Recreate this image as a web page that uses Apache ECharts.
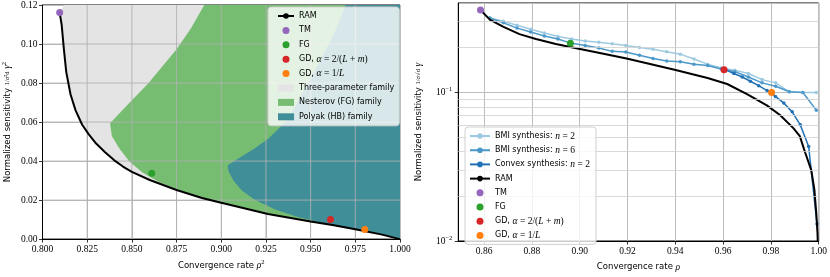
<!DOCTYPE html>
<html><head><meta charset="utf-8">
<script src="https://cdn.jsdelivr.net/npm/echarts@6/dist/echarts.min.js"></script>
<style>html,body{margin:0;padding:0;background:#fff}#c{width:830px;height:277px}</style>
</head><body><div id="c"></div>
<script>
// ---------- LEFT panel data (x = rho^2, y = normalized sensitivity) ----------
const ramLX = [0.8096,0.8107,0.8120,0.8133,0.8157,0.8185,0.8222,0.8259,0.8300,0.8350,0.8400,0.8450,0.8500,0.8600,0.8750,0.8892,0.9000,0.9261,0.9500,0.9630,0.9750,0.9900,1.0000];
const ramLY = [0.1161,0.1100,0.0970,0.0856,0.0741,0.0660,0.0586,0.0537,0.0490,0.0445,0.0405,0.0372,0.0345,0.0303,0.0252,0.0211,0.0186,0.0129,0.0090,0.0071,0.0051,0.0023,0.0000];
const grayX = [0.8096,0.8107,0.8120,0.8133,0.8157,0.8185,0.8222,0.8259,0.8300,0.8350,0.8400,0.8450,0.8500,0.8600,0.8750,0.8892,0.9000,0.9261,0.9500,0.9630,0.9750,0.9900,1.0000,1.0000,0.8120];
const grayY = [0.1161,0.1100,0.0970,0.0856,0.0741,0.0660,0.0586,0.0537,0.0490,0.0445,0.0405,0.0372,0.0345,0.0303,0.0252,0.0211,0.0186,0.0129,0.0090,0.0071,0.0051,0.0023,0.0000,0.1200,0.1200];
const greenX = [0.8905,0.8830,0.8748,0.8591,0.8480,0.8378,0.8388,0.8430,0.8485,0.8559,0.8651,0.8744,0.8892,0.9000,0.9261,0.9500,0.9630,0.9750,0.9900,1.0000,1.0000];
const greenY = [0.1200,0.1080,0.0970,0.0798,0.0692,0.0594,0.0529,0.0464,0.0399,0.0342,0.0293,0.0258,0.0211,0.0186,0.0129,0.0090,0.0071,0.0051,0.0023,0.0000,0.1200];
const blueX = [0.9695,0.9630,0.9538,0.9450,0.9372,0.9261,0.9186,0.9085,0.9036,0.9040,0.9068,0.9114,0.9187,0.9298,0.9428,0.9539,0.9630,0.9750,0.9900,1.0000,1.0000];
const blueY = [0.1200,0.1050,0.0888,0.0740,0.0611,0.0513,0.0464,0.0407,0.0378,0.0349,0.0300,0.0251,0.0202,0.0153,0.0113,0.0089,0.0071,0.0051,0.0023,0.0000,0.1200];
const tmL = [0.8096, 0.1161];
const fgL = [0.8611, 0.0337];
const gdAL = [0.9611, 0.0100];
const gdBL = [0.9803, 0.0049];
const gridLX = [0.825,0.85,0.875,0.9,0.925,0.95,0.975];
const gridLY = [0.02,0.04,0.06,0.08,0.10];

// ---------- RIGHT panel data (x = rho, y = normalized sensitivity, log) ----------
const bmiX = [0.8624,0.8681,0.8738,0.8795,0.8852,0.8909,0.8966,0.9023,0.9080,0.9136,0.9193,0.9250,0.9307,0.9364,0.9421,0.9478,0.9535,0.9592,0.9649,0.9706,0.9763,0.9820,0.9877,0.9934,0.9990];
const bmi2Y = [0.317,0.301,0.283,0.266,0.251,0.238,0.229,0.222,0.218,0.213,0.207,0.201,0.195,0.188,0.181,0.168,0.155,0.146,0.141,0.134,0.122,0.116,0.101,0.100,0.100];
const bmi6Y = [0.317,0.294,0.271,0.255,0.240,0.229,0.214,0.207,0.199,0.189,0.187,0.178,0.169,0.163,0.161,0.155,0.152,0.144,0.138,0.127,0.116,0.110,0.101,0.100,0.076];
const convX = [0.9610,0.9645,0.9680,0.9714,0.9749,0.9784,0.9819,0.9854,0.9889,0.9923,0.9958,0.9993];
const convY = [0.142,0.134,0.127,0.119,0.111,0.103,0.094,0.0848,0.074,0.0605,0.0433,0.013];
const ramRX = [0.8585,0.8624,0.8679,0.8748,0.8817,0.8900,0.8996,0.9079,0.9196,0.9397,0.9535,0.9617,0.9700,0.9783,0.9838,0.9894,0.9921,0.9943,0.9969,0.9982,0.9990,0.9995,0.9998];
const ramRY = [0.359,0.309,0.277,0.247,0.229,0.212,0.197,0.185,0.169,0.142,0.125,0.114,0.0975,0.0818,0.0705,0.0575,0.0508,0.0396,0.030,0.0222,0.0153,0.0113,0.008];
const tmR = [0.8585, 0.359];
const fgR = [0.8961, 0.214];
const gdAR = [0.9604, 0.142];
const gdBR = [0.9803, 0.100];
const minorGridR = [0.02,0.03,0.04,0.05,0.06,0.07,0.08,0.09,0.2,0.3];

const C = {tm:'#9467bd', fg:'#2ca02c', gdA:'#d62728', gdB:'#ff7f0e',
  gray:'#e4e4e4', green:'#76bd72', blue:'#3f8e98',
  b2:'#9ecae1', b6:'#4a98c9', cv:'#2171b5'};

const zip = (xs, ys) => xs.map((x, i) => [x, ys[i]]);
const SANS = 'DejaVu Sans', SERIF = 'Liberation Serif';
const rich = {
  m:{fontFamily:SERIF, fontStyle:'italic', fontSize:9.5, color:'#000', lineHeight:10},
  r:{fontFamily:SERIF, fontSize:9.5, color:'#000', lineHeight:10},
  s:{fontFamily:SERIF, fontSize:6.5, color:'#000', lineHeight:10},
  sup:{fontFamily:SERIF, fontSize:6.5, color:'#000', padding:[0,0,6,0], lineHeight:10}
};
const NAMES = {
  gdA:'GD, α = 2/(L + m)', gdB:'GD, α = 1/L',
  three:'Three-parameter family', nest:'Nesterov (FG) family', poly:'Polyak (HB) family',
  b2:'BMI synthesis: n = 2', b6:'BMI synthesis: n = 6', cv:'Convex synthesis: n = 2'
};
const legendFmt = {
  [NAMES.gdA]:'GD, {m|α} {r|= 2/(}{m|L}{r| + }{m|m}{r|)}',
  [NAMES.gdB]:'GD, {m|α} {r|= 1/}{m|L}',
  [NAMES.b2]:'BMI synthesis: {m|n} {r|= 2}',
  [NAMES.b6]:'BMI synthesis: {m|n} {r|= 6}',
  [NAMES.cv]:'Convex synthesis: {m|n} {r|= 2}'
};

function swatch(name, color) {
  return {type:'custom', name:name, xAxisIndex:0, yAxisIndex:0, silent:true,
    itemStyle:{color:color}, renderItem:() => null, data:[]};
}
const regions = [[grayX, grayY, C.gray], [greenX, greenY, C.green], [blueX, blueY, C.blue]];
function fillsRender(params, api) {
  if (params.dataIndex !== 0) return null;
  const children = regions.map((r, k) => ({type:'polygon', z2:k,
    shape:{points:r[0].map((x, i) => api.coord([x, r[1][i]]))}, style:{fill:r[2]}}));
  return {type:'group', children:children};
}
function pt(name, p, color, ax) {
  return {type:'scatter', name:name, xAxisIndex:ax, yAxisIndex:ax, symbolSize:7, z:6,
    itemStyle:{color:color, opacity:1}, data:[p]};
}
// left-panel grid lines as plain line series, so they sit above the filled families
const gridStyle = {color:'rgba(176,176,176,0.85)', width:1};
const gridSeries = gridLX.map(x => ({type:'line', name:'gx' + x, xAxisIndex:0, yAxisIndex:0,
    symbol:'none', silent:true, z:3, lineStyle:gridStyle, data:[[x, 0], [x, 0.12]]}))
  .concat(gridLY.map(y => ({type:'line', name:'gy' + y, xAxisIndex:0, yAxisIndex:0,
    symbol:'none', silent:true, z:3, lineStyle:gridStyle, data:[[0.8, y], [1.0, y]]})));

const axisCommon = {
  axisLine:{show:true, onZero:false, lineStyle:{color:'#000', width:1}},
  axisTick:{show:true, length:3.5, lineStyle:{color:'#000', width:0.8}},
  splitLine:{show:true, lineStyle:{color:'#bdbdbd', width:1}},
  nameTextStyle:{fontFamily:SANS, fontSize:8.5, color:'#000', rich:rich}
};
const lblStyle = {fontFamily:SERIF, fontSize:9.5, color:'#000'};
const legendText = {fontFamily:SANS, fontSize:8, color:'#000', lineHeight:10, rich:rich};

const option = {
  animation:false,
  backgroundColor:'#fff',
  grid:[
    {left:39, top:3, width:361, height:245, show:true, borderColor:'#000', borderWidth:1, backgroundColor:'transparent'},
    {left:458.3, top:3, width:362.4, height:245, show:true, borderColor:'#000', borderWidth:1, backgroundColor:'transparent'}
  ],
  xAxis:[
    Object.assign({}, axisCommon, {type:'value', gridIndex:0, min:0.8, max:1.0, interval:0.025,
      name:'Convergence rate {m|ρ}{sup|2}', nameLocation:'middle', nameGap:21,
      axisLabel:Object.assign({}, lblStyle, {margin:5, formatter:v => v.toFixed(3)})}),
    Object.assign({}, axisCommon, {type:'value', gridIndex:1, min:0.8492, max:1.0, splitNumber:7,
      name:'Convergence rate {m|ρ}', nameLocation:'middle', nameGap:21,
      axisLabel:Object.assign({}, lblStyle, {margin:5, showMinLabel:false,
        formatter:v => (v < 0.855 ? '' : v.toFixed(2))})})
  ],
  yAxis:[
    Object.assign({}, axisCommon, {type:'value', gridIndex:0, min:0, max:0.12, interval:0.02,
      name:'Normalized sensitivity {s|1/σ²d} {m|γ}{sup|2}', nameLocation:'middle', nameGap:30,
      axisLabel:Object.assign({}, lblStyle, {margin:5, formatter:v => v.toFixed(2)})}),
    Object.assign({}, axisCommon, {type:'log', logBase:10, gridIndex:1, min:0.01, max:0.4,
      name:'Normalized sensitivity {s|1/σ√d} {m|γ}', nameLocation:'middle', nameGap:35,
      axisLabel:Object.assign({}, lblStyle, {margin:6, showMaxLabel:false, rich:rich,
        formatter:function (v) {
          const e = Math.round(Math.log10(v));
          if (Math.abs(v - Math.pow(10, e)) / v > 1e-6) return '';
          return '{r|10}{sup|' + (e < 0 ? '−' : '') + Math.abs(e) + '}';
        }})})
  ],
  legend:[
    {orient:'vertical', left:268, top:7, itemWidth:16, itemHeight:7, itemGap:4.4, z:8,
     backgroundColor:'rgba(255,255,255,0.8)', borderColor:'#d0d0d0', borderWidth:1, borderRadius:3,
     padding:[4,5,4,9],
     textStyle:legendText,
     formatter:n => legendFmt[n] || n,
     data:[{name:'RAM'}, {name:'TM', icon:'circle'}, {name:'FG', icon:'circle'},
       {name:NAMES.gdA, icon:'circle'}, {name:NAMES.gdB, icon:'circle'},
       {name:NAMES.three, icon:'rect'}, {name:NAMES.nest, icon:'rect'}, {name:NAMES.poly, icon:'rect'}]},
    {orient:'vertical', left:465, top:127, itemWidth:20, itemHeight:7, itemGap:4.2, z:8,
     backgroundColor:'rgba(255,255,255,0.8)', borderColor:'#d0d0d0', borderWidth:1, borderRadius:3,
     padding:[4,6,4,4],
     textStyle:legendText,
     formatter:n => legendFmt[n] || n,
     data:[{name:NAMES.b2}, {name:NAMES.b6}, {name:NAMES.cv}, {name:'RAM'},
       {name:'TM', icon:'circle'}, {name:'FG', icon:'circle'},
       {name:NAMES.gdA, icon:'circle'}, {name:NAMES.gdB, icon:'circle'}]}
  ],
  series:[
    {type:'custom', name:'families', xAxisIndex:0, yAxisIndex:0, z:1, silent:true,
     renderItem:fillsRender, encode:{x:0, y:1}, data:zip(grayX, grayY)},
    swatch(NAMES.three, C.gray), swatch(NAMES.nest, C.green), swatch(NAMES.poly, C.blue)
  ].concat(gridSeries).concat([
    {type:'line', name:'RAM', xAxisIndex:0, yAxisIndex:0, symbol:'none', z:4,
     lineStyle:{color:'#000', width:2}, itemStyle:{color:'#000'}, data:zip(ramLX, ramLY)},
    pt('TM', tmL, C.tm, 0), pt('FG', fgL, C.fg, 0), pt(NAMES.gdA, gdAL, C.gdA, 0), pt(NAMES.gdB, gdBL, C.gdB, 0),
    {type:'line', name:'minor-grid', xAxisIndex:1, yAxisIndex:1, z:1, data:[], silent:true,
     markLine:{silent:true, symbol:'none', label:{show:false}, animation:false,
       lineStyle:{color:'#cfcfcf', width:0.8, type:'solid'},
       data:minorGridR.map(v => ({yAxis:v}))}},
    {type:'line', name:NAMES.b2, xAxisIndex:1, yAxisIndex:1, symbol:'circle', symbolSize:3.5, z:3,
     lineStyle:{color:C.b2, width:1.5}, itemStyle:{color:C.b2}, data:zip(bmiX, bmi2Y)},
    {type:'line', name:NAMES.b6, xAxisIndex:1, yAxisIndex:1, symbol:'circle', symbolSize:3.5, z:3,
     lineStyle:{color:C.b6, width:1.5}, itemStyle:{color:C.b6}, data:zip(bmiX, bmi6Y)},
    {type:'line', name:NAMES.cv, xAxisIndex:1, yAxisIndex:1, symbol:'circle', symbolSize:3.5, z:3,
     lineStyle:{color:C.cv, width:1.5}, itemStyle:{color:C.cv}, data:zip(convX, convY)},
    {type:'line', name:'RAM', xAxisIndex:1, yAxisIndex:1, symbol:'none', z:4, clip:true,
     lineStyle:{color:'#000', width:2}, itemStyle:{color:'#000'}, data:zip(ramRX, ramRY)},
    pt('TM', tmR, C.tm, 1), pt('FG', fgR, C.fg, 1), pt(NAMES.gdA, gdAR, C.gdA, 1), pt(NAMES.gdB, gdBR, C.gdB, 1)
  ])
};
const chart = echarts.init(document.getElementById('c'), null, {renderer:'canvas'});
chart.setOption(option);
</script></body></html>
